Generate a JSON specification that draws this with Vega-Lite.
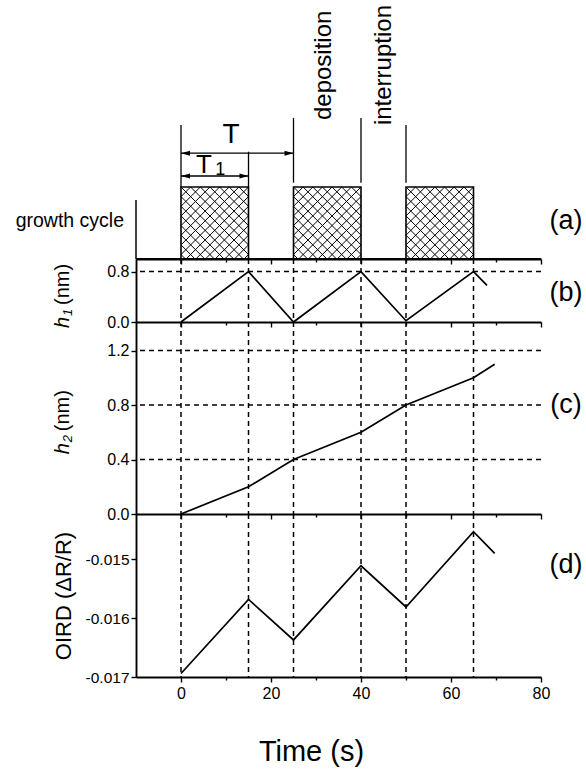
{
  "$schema": "https://vega.github.io/schema/vega-lite/v6.json",
  "padding": {"left": 15, "top": 4, "right": 5, "bottom": 5},
  "bounds": "flush",
  "spacing": 0,
  "background": "white",
  "config": {
    "view": {"stroke": null},
    "font": "Liberation Sans",
    "text": {"font": "Liberation Sans", "color": "black"},
    "axis": {
      "domainColor": "black", "domainWidth": 1.9,
      "tickColor": "black", "tickWidth": 1.4,
      "labelColor": "black", "labelFont": "Liberation Sans", "labelFontSize": 15.5,
      "titleColor": "black", "titleFont": "Liberation Sans", "titleFontWeight": "normal",
      "grid": false, "labelOverlap": false, "labelFlush": false
    }
  },
  "datasets": {
    "cycles": [{"start": 0, "end": 15}, {"start": 25, "end": 40}, {"start": 50, "end": 65}],
    "switches": [{"t": 0}, {"t": 15}, {"t": 25}, {"t": 40}, {"t": 50}, {"t": 65}],
    "h1": [
      {"t": 0, "h": 0}, {"t": 15, "h": 0.8}, {"t": 25, "h": 0}, {"t": 40, "h": 0.8},
      {"t": 50, "h": 0.02}, {"t": 65, "h": 0.8}, {"t": 68, "h": 0.58}
    ],
    "h2": [
      {"t": 0, "h": 0}, {"t": 15, "h": 0.2}, {"t": 25, "h": 0.4}, {"t": 40, "h": 0.6},
      {"t": 50, "h": 0.8}, {"t": 65, "h": 1.0}, {"t": 69.7, "h": 1.1}
    ],
    "oird": [
      {"t": 0, "v": -0.01694}, {"t": 15, "v": -0.01568}, {"t": 25, "v": -0.01637},
      {"t": 40, "v": -0.01511}, {"t": 50, "v": -0.01581}, {"t": 65, "v": -0.01453},
      {"t": 69.7, "v": -0.0149}
    ],
    "grid_b": [{"h": 0.8}],
    "grid_c": [{"h": 0.4}, {"h": 0.8}, {"h": 1.2}]
  },
  "vconcat": [
    {
      "width": 405,
      "height": 255,
      "layer": [
        {
          "data": {"name": "cycles"},
          "mark": {
            "type": "point",
            "shape": "M0,-62.4L9.6,-72M0,-52.7L19.3,-72M0,-43.1L28.9,-72M0,-33.4L38.6,-72M0,-23.8L48.2,-72M0,-14.1L57.9,-72M0,-4.5L67.5,-72M5.1,0L67.5,-62.4M14.8,0L67.5,-52.7M24.4,0L67.5,-43.1M34.1,0L67.5,-33.4M43.7,0L67.5,-23.8M53.4,0L67.5,-14.1M63,0L67.5,-4.5M57.9,-72L67.5,-62.4M48.2,-72L67.5,-52.7M38.6,-72L67.5,-43.1M28.9,-72L67.5,-33.4M19.3,-72L67.5,-23.8M9.6,-72L67.5,-14.1M0,-72L67.5,-4.5M0,-62.4L62.4,0M0,-52.7L52.7,0M0,-43.1L43.1,0M0,-33.4L33.4,0M0,-23.8L23.8,0M0,-14.1L14.1,0M0,-4.5L4.5,0",
            "size": 4, "filled": false, "color": "black", "strokeWidth": 1, "opacity": 1
          },
          "encoding": {
            "x": {
              "field": "start", "type": "quantitative",
              "scale": {"domain": [-10, 80], "nice": false, "zero": false},
              "axis": {
                "orient": "bottom", "values": [0, 10, 20, 30, 40, 50, 60, 70, 80],
                "labels": false, "title": null,
                "tickSize": {"condition": {"test": "datum.value % 20 == 0", "value": 5}, "value": 3}
              }
            },
            "y": {"datum": 0, "type": "quantitative", "scale": {"domain": [0, 3.541667], "nice": false, "zero": false}, "axis": null}
          }
        },
        {
          "data": {"name": "cycles"},
          "mark": {"type": "rect", "filled": false, "color": "black", "strokeWidth": 1.6},
          "encoding": {
            "x": {"field": "start", "type": "quantitative"},
            "x2": {"field": "end"},
            "y": {"datum": 0, "type": "quantitative", "axis": null},
            "y2": {"datum": 1}
          }
        },
        {
          "data": {"values": [{}]},
          "mark": {"type": "rule", "color": "black", "strokeWidth": 1.5},
          "encoding": {"x": {"datum": -10}, "y": {"datum": 0, "axis": null}, "y2": {"datum": 0.82}}
        },
        {
          "data": {"values": [{}]},
          "mark": {"type": "rule", "color": "black", "strokeWidth": 1.3},
          "encoding": {"x": {"datum": 0}, "y": {"datum": 1.0, "axis": null}, "y2": {"datum": 1.86}}
        },
        {
          "data": {"values": [{}]},
          "mark": {"type": "rule", "color": "black", "strokeWidth": 1.3},
          "encoding": {"x": {"datum": 15}, "y": {"datum": 1.0, "axis": null}, "y2": {"datum": 1.49}}
        },
        {
          "data": {"values": [{}]},
          "mark": {"type": "rule", "color": "black", "strokeWidth": 1.3},
          "encoding": {"x": {"datum": 25}, "y": {"datum": 1.06, "axis": null}, "y2": {"datum": 1.96}}
        },
        {
          "data": {"values": [{}]},
          "mark": {"type": "rule", "color": "black", "strokeWidth": 1.3},
          "encoding": {"x": {"datum": 40}, "y": {"datum": 1.06, "axis": null}, "y2": {"datum": 1.96}}
        },
        {
          "data": {"values": [{}]},
          "mark": {"type": "rule", "color": "black", "strokeWidth": 1.3},
          "encoding": {"x": {"datum": 50}, "y": {"datum": 1.06, "axis": null}, "y2": {"datum": 1.86}}
        },
        {
          "data": {"values": [{}]},
          "mark": {"type": "rule", "color": "black", "strokeWidth": 1.3},
          "encoding": {"x": {"datum": 0}, "x2": {"datum": 25}, "y": {"datum": 1.47, "axis": null}}
        },
        {
          "data": {"values": [{}]},
          "mark": {"type": "rule", "color": "black", "strokeWidth": 1.3},
          "encoding": {"x": {"datum": 0}, "x2": {"datum": 15}, "y": {"datum": 1.153, "axis": null}}
        },
        {
          "data": {"values": [{}]},
          "mark": {"type": "point", "shape": "M0,0L9,-2.5L9,2.5Z", "size": 4, "filled": true, "color": "black", "opacity": 1},
          "encoding": {"x": {"datum": 0}, "y": {"datum": 1.47, "axis": null}}
        },
        {
          "data": {"values": [{}]},
          "mark": {"type": "point", "shape": "M0,0L-9,-2.5L-9,2.5Z", "size": 4, "filled": true, "color": "black", "opacity": 1},
          "encoding": {"x": {"datum": 25}, "y": {"datum": 1.47, "axis": null}}
        },
        {
          "data": {"values": [{}]},
          "mark": {"type": "point", "shape": "M0,0L9,-2.5L9,2.5Z", "size": 4, "filled": true, "color": "black", "opacity": 1},
          "encoding": {"x": {"datum": 0}, "y": {"datum": 1.153, "axis": null}}
        },
        {
          "data": {"values": [{}]},
          "mark": {"type": "point", "shape": "M0,0L-9,-2.5L-9,2.5Z", "size": 4, "filled": true, "color": "black", "opacity": 1},
          "encoding": {"x": {"datum": 15}, "y": {"datum": 1.153, "axis": null}}
        },
        {
          "data": {"values": [{"label": "T"}]},
          "mark": {"type": "text", "fontSize": 28, "align": "center", "baseline": "middle"},
          "encoding": {"x": {"datum": 11.1}, "y": {"datum": 1.72, "axis": null}, "text": {"field": "label"}}
        },
        {
          "data": {"values": [{"label": "T"}]},
          "mark": {"type": "text", "fontSize": 26, "align": "center", "baseline": "middle"},
          "encoding": {"x": {"datum": 5.1}, "y": {"datum": 1.31, "axis": null}, "text": {"field": "label"}}
        },
        {
          "data": {"values": [{"label": "1"}]},
          "mark": {"type": "text", "fontSize": 18, "align": "center", "baseline": "middle"},
          "encoding": {"x": {"datum": 8.7}, "y": {"datum": 1.24, "axis": null}, "text": {"field": "label"}}
        },
        {
          "data": {"values": [{"label": "deposition"}]},
          "mark": {"type": "text", "fontSize": 24, "angle": 270, "align": "left", "baseline": "middle"},
          "encoding": {"x": {"datum": 31.8}, "y": {"datum": 1.93, "axis": null}, "text": {"field": "label"}}
        },
        {
          "data": {"values": [{"label": "interruption"}]},
          "mark": {"type": "text", "fontSize": 24, "angle": 270, "align": "left", "baseline": "middle"},
          "encoding": {"x": {"datum": 45.1}, "y": {"datum": 1.86, "axis": null}, "text": {"field": "label"}}
        },
        {
          "data": {"values": [{"label": "growth cycle"}]},
          "mark": {"type": "text", "fontSize": 19.5, "align": "right", "baseline": "middle", "dx": -12},
          "encoding": {"x": {"datum": -10}, "y": {"datum": 0.53, "axis": null}, "text": {"field": "label"}}
        },
        {
          "data": {"values": [{"label": "(a)"}]},
          "mark": {"type": "text", "fontSize": 27, "align": "center", "baseline": "middle", "dx": 25},
          "encoding": {"x": {"datum": 80}, "y": {"datum": 0.53, "axis": null}, "text": {"field": "label"}}
        }
      ]
    },
    {
      "width": 405,
      "height": 63,
      "layer": [
        {
          "data": {"name": "switches"},
          "mark": {"type": "rule", "color": "black", "strokeWidth": 1.5, "strokeDash": [5, 4]},
          "encoding": {
            "x": {
              "field": "t", "type": "quantitative",
              "scale": {"domain": [-10, 80], "nice": false, "zero": false},
              "axis": {
                "orient": "bottom", "values": [0, 10, 20, 30, 40, 50, 60, 70, 80],
                "labels": false, "title": null,
                "tickSize": {"condition": {"test": "datum.value % 20 == 0", "value": 5}, "value": 3}
              }
            }
          }
        },
        {
          "data": {"name": "grid_b"},
          "mark": {"type": "rule", "color": "black", "strokeWidth": 1.5, "strokeDash": [5, 4]},
          "encoding": {
            "y": {
              "field": "h", "type": "quantitative",
              "scale": {"domain": [0, 1], "nice": false, "zero": false},
              "axis": {
                "values": [0, 0.2, 0.4, 0.6, 0.8], "title": null, "labelPadding": 2, "labelFontSize": 16,
                "labelExpr": "round(datum.value*10) % 4 == 0 ? format(datum.value, '.1f') : ''",
                "tickSize": {"condition": {"test": "round(datum.value*10) % 4 == 0", "value": 5}, "value": 3}
              }
            }
          }
        },
        {
          "data": {"values": [{}]},
          "mark": {"type": "rule", "color": "black", "strokeWidth": 1.9},
          "encoding": {"y": {"datum": 1}}
        },
        {
          "data": {"name": "h1"},
          "mark": {"type": "line", "color": "black", "strokeWidth": 1.7},
          "encoding": {"x": {"field": "t", "type": "quantitative"}, "y": {"field": "h", "type": "quantitative"}}
        },
        {
          "data": {"values": [{}]},
          "mark": {"type": "text", "text": "h", "fontSize": 20, "fontStyle": "italic", "angle": 270, "align": "right", "baseline": "middle", "dy": -73},
          "encoding": {"x": {"datum": -10}, "y": {"datum": 0.08}}
        },
        {
          "data": {"values": [{}]},
          "mark": {"type": "text", "text": "1", "fontSize": 13, "fontStyle": "italic", "angle": 270, "align": "left", "baseline": "middle", "dx": 1, "dy": -68},
          "encoding": {"x": {"datum": -10}, "y": {"datum": 0.08}}
        },
        {
          "data": {"values": [{}]},
          "mark": {"type": "text", "text": "(nm)", "fontSize": 20, "angle": 270, "align": "left", "baseline": "middle", "dx": 12, "dy": -73},
          "encoding": {"x": {"datum": -10}, "y": {"datum": 0.08}}
        },
        {
          "data": {"values": [{"label": "(b)"}]},
          "mark": {"type": "text", "fontSize": 27, "align": "center", "baseline": "middle", "dx": 25},
          "encoding": {"x": {"datum": 80}, "y": {"datum": 0.46}, "text": {"field": "label"}}
        }
      ]
    },
    {
      "width": 405,
      "height": 192,
      "layer": [
        {
          "data": {"name": "switches"},
          "mark": {"type": "rule", "color": "black", "strokeWidth": 1.5, "strokeDash": [5, 4]},
          "encoding": {
            "x": {
              "field": "t", "type": "quantitative",
              "scale": {"domain": [-10, 80], "nice": false, "zero": false},
              "axis": {
                "orient": "bottom", "values": [0, 10, 20, 30, 40, 50, 60, 70, 80],
                "labels": false, "title": null,
                "tickSize": {"condition": {"test": "datum.value % 20 == 0", "value": 5}, "value": 3}
              }
            }
          }
        },
        {
          "data": {"name": "grid_c"},
          "mark": {"type": "rule", "color": "black", "strokeWidth": 1.5, "strokeDash": [5, 4]},
          "encoding": {
            "y": {
              "field": "h", "type": "quantitative",
              "scale": {"domain": [0, 1.41], "nice": false, "zero": false},
              "axis": {
                "values": [0, 0.2, 0.4, 0.6, 0.8, 1.0, 1.2], "title": null, "labelPadding": 2, "labelFontSize": 16,
                "labelExpr": "round(datum.value*10) % 4 == 0 ? format(datum.value, '.1f') : ''",
                "tickSize": {"condition": {"test": "round(datum.value*10) % 4 == 0", "value": 5}, "value": 3}
              }
            }
          }
        },
        {
          "data": {"name": "h2"},
          "mark": {"type": "line", "color": "black", "strokeWidth": 1.7},
          "encoding": {"x": {"field": "t", "type": "quantitative"}, "y": {"field": "h", "type": "quantitative"}}
        },
        {
          "data": {"values": [{}]},
          "mark": {"type": "text", "text": "h", "fontSize": 20, "fontStyle": "italic", "angle": 270, "align": "right", "baseline": "middle", "dy": -73},
          "encoding": {"x": {"datum": -10}, "y": {"datum": 0.52}}
        },
        {
          "data": {"values": [{}]},
          "mark": {"type": "text", "text": "2", "fontSize": 13, "fontStyle": "italic", "angle": 270, "align": "left", "baseline": "middle", "dx": 1, "dy": -68},
          "encoding": {"x": {"datum": -10}, "y": {"datum": 0.52}}
        },
        {
          "data": {"values": [{}]},
          "mark": {"type": "text", "text": "(nm)", "fontSize": 20, "angle": 270, "align": "left", "baseline": "middle", "dx": 12, "dy": -73},
          "encoding": {"x": {"datum": -10}, "y": {"datum": 0.52}}
        },
        {
          "data": {"values": [{"label": "(c)"}]},
          "mark": {"type": "text", "fontSize": 27, "align": "center", "baseline": "middle", "dx": 25},
          "encoding": {"x": {"datum": 80}, "y": {"datum": 0.8}, "text": {"field": "label"}}
        }
      ]
    },
    {
      "width": 405,
      "height": 163,
      "layer": [
        {
          "data": {"name": "switches"},
          "mark": {"type": "rule", "color": "black", "strokeWidth": 1.5, "strokeDash": [5, 4]},
          "encoding": {
            "x": {
              "field": "t", "type": "quantitative",
              "scale": {"domain": [-10, 80], "nice": false, "zero": false},
              "axis": {
                "orient": "bottom", "values": [0, 10, 20, 30, 40, 50, 60, 70, 80],
                "labelExpr": "datum.value % 20 == 0 ? datum.label : ''",
                "tickSize": {"condition": {"test": "datum.value % 20 == 0", "value": 5}, "value": 3},
                "labelFontSize": 16, "labelPadding": 3,
                "title": "Time (s)", "titleFontSize": 29, "titlePadding": 36, "titleX": 175
              }
            }
          }
        },
        {
          "data": {"name": "oird"},
          "mark": {"type": "line", "color": "black", "strokeWidth": 1.7},
          "encoding": {
            "x": {"field": "t", "type": "quantitative"},
            "y": {
              "field": "v", "type": "quantitative",
              "scale": {"domain": [-0.017, -0.01423], "nice": false, "zero": false},
              "axis": {
                "values": [-0.017, -0.0165, -0.016, -0.0155, -0.015, -0.0145],
                "labelExpr": "datum.value == -0.017 ? '-0.017' : datum.value == -0.016 ? '-0.016' : datum.value == -0.015 ? '-0.015' : ''",
                "tickSize": {"condition": {"test": "round(datum.value*10000) % 10 == 0", "value": 5}, "value": 3},
                "labelPadding": 2,
                "title": "OIRD (ΔR/R)", "titleFontSize": 22, "titleAngle": 270,
                "titleX": -73, "titleY": 81.5, "titleAlign": "center", "titleBaseline": "middle"
              }
            }
          }
        },
        {
          "data": {"values": [{"label": "(d)"}]},
          "mark": {"type": "text", "fontSize": 27, "align": "center", "baseline": "middle", "dx": 25},
          "encoding": {"x": {"datum": 80}, "y": {"datum": -0.0151}, "text": {"field": "label"}}
        }
      ]
    }
  ]
}
